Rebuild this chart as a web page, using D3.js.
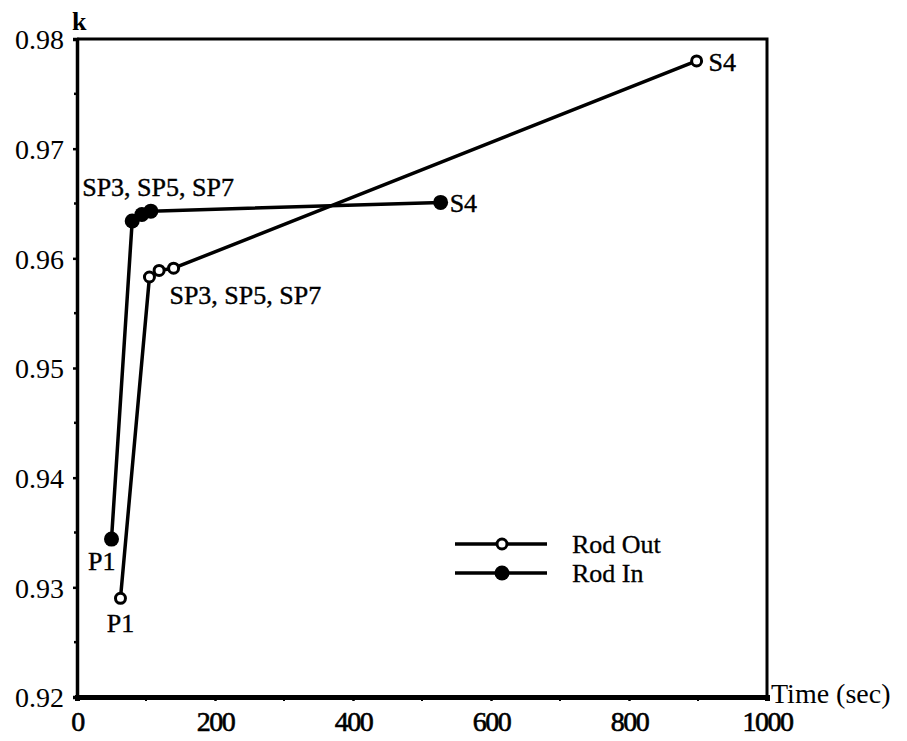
<!DOCTYPE html>
<html>
<head>
<meta charset="utf-8">
<script src="https://cdn.jsdelivr.net/npm/d3@7"></script>
<style>
  body { margin: 0; background: #fff; }
  svg { display: block; }
  text { font-family: "Liberation Serif", "DejaVu Serif", serif; fill: #000; }
</style>
</head>
<body>
<div class="chart"></div>
<script>
// values
const rodOutTime = [63, 105, 119, 140, 898];
const rodOutK = [0.9290, 0.9583, 0.9589, 0.9591, 0.9780];
const rodInTime = [50, 80, 94, 107, 527];
const rodInK = [0.9344, 0.9634, 0.9640, 0.9643, 0.9651];
const xTicks = [0, 200, 400, 600, 800, 1000];
const yTicks = [0.92, 0.93, 0.94, 0.95, 0.96, 0.97, 0.98];
const seriesNames = ["Rod Out", "Rod In"];

const width = 907, height = 741;
const margin = {left: 77, right: 140, top: 39, bottom: 44};
const innerW = width - margin.left - margin.right;
const innerH = height - margin.top - margin.bottom;

const x = d3.scaleLinear().domain([0, 1000]).range([0, innerW]);
const y = d3.scaleLinear().domain([0.92, 0.98]).range([innerH, 0]);

const svg = d3.select(".chart").append("svg")
    .attr("width", width)
    .attr("height", height);

const g = svg.append("g")
    .attr("transform", `translate(${margin.left},${margin.top})`);

// frame top and right
g.append("path")
    .attr("d", `M0,0H${innerW}V${innerH}`)
    .attr("fill", "none")
    .attr("stroke", "#000")
    .attr("stroke-width", 3);

// y axis
const yAxis = g.append("g")
    .call(d3.axisLeft(y).tickValues(yTicks).tickFormat(d3.format(".2f")).tickSize(4).tickPadding(9));
yAxis.select(".domain").attr("stroke-width", 3.5);
yAxis.selectAll(".tick line").attr("stroke-width", 2.5);
yAxis.selectAll("text").attr("font-size", 28).attr("dy", "0.35em")
    .style("font-family", "Liberation Serif, serif");
g.append("g").selectAll("line")
    .data(d3.range(0.925, 0.98, 0.01))
    .join("line")
    .attr("x1", -3).attr("x2", 0)
    .attr("y1", d => y(d)).attr("y2", d => y(d))
    .attr("stroke", "#000").attr("stroke-width", 2.5);

// x axis
const xAxis = g.append("g")
    .attr("transform", `translate(0,${innerH})`)
    .call(d3.axisBottom(x).tickValues(xTicks).tickFormat(d3.format("d")).tickSize(4).tickPadding(10));
xAxis.select(".domain").attr("stroke-width", 5);
xAxis.selectAll(".tick line").attr("stroke-width", 2.5);
xAxis.selectAll("text").attr("font-size", 28).attr("letter-spacing", -1.5)
    .attr("stroke", "#000").attr("stroke-width", 0.6)
    .style("font-family", "Liberation Serif, serif");
g.append("g").selectAll("line")
    .data(d3.range(100, 1000, 200))
    .join("line")
    .attr("x1", d => x(d)).attr("x2", d => x(d))
    .attr("y1", innerH).attr("y2", innerH + 4)
    .attr("stroke", "#000").attr("stroke-width", 2);

// axis titles
g.append("text")
    .attr("x", -5).attr("y", -9)
    .attr("font-size", 26).attr("font-weight", "bold")
    .text("k");
g.append("text")
    .attr("x", innerW + 4).attr("y", innerH + 6)
    .attr("font-size", 28)
    .text("Time (sec)");

const line = d3.line().x(d => x(d[0])).y(d => y(d[1]));
const rodOut = d3.zip(rodOutTime, rodOutK);
const rodIn = d3.zip(rodInTime, rodInK);

[rodIn, rodOut].forEach(pts => {
    g.append("path")
        .datum(pts)
        .attr("d", line)
        .attr("fill", "none")
        .attr("stroke", "#000")
        .attr("stroke-width", 3.5)
        .attr("stroke-linejoin", "round");
});

g.append("g").selectAll("circle")
    .data(rodIn)
    .join("circle")
    .attr("cx", d => x(d[0])).attr("cy", d => y(d[1]))
    .attr("r", 7.5)
    .attr("fill", "#000");

g.append("g").selectAll("circle")
    .data(rodOut)
    .join("circle")
    .attr("cx", d => x(d[0])).attr("cy", d => y(d[1]))
    .attr("r", 5)
    .attr("fill", "#fff")
    .attr("stroke", "#000")
    .attr("stroke-width", 3);

// point labels
const labels = g.append("g")
    .attr("font-size", 26)
    .attr("stroke", "#000")
    .attr("stroke-width", 0.4);

function addLabel(pt, text, dx, dy, anchor) {
    labels.append("text")
        .attr("x", x(pt[0]) + dx)
        .attr("y", y(pt[1]) + dy)
        .attr("text-anchor", anchor)
        .text(text);
}
addLabel(rodOut[4], "S4", 12, 10, "start");
addLabel(rodIn[4], "S4", 9, 10, "start");
addLabel(rodOut[1], "SP3, SP5, SP7", 20, 27, "start");
addLabel(rodIn[1], "SP3, SP5, SP7", -50, -25, "start");
addLabel(rodIn[0], "P1", 4, 31, "end");
addLabel(rodOut[0], "P1", 0, 34, "middle");

// legend
const legend = g.append("g")
    .attr("transform", `translate(${455 - margin.left},${544 - margin.top})`);
seriesNames.forEach((name, i) => {
    const row = legend.append("g").attr("transform", `translate(0,${i * 29})`);
    row.append("line")
        .attr("x1", 0).attr("x2", 92)
        .attr("stroke", "#000").attr("stroke-width", 3.5);
    if (i === 0) {
        row.append("circle").attr("cx", 47).attr("r", 5)
            .attr("fill", "#fff").attr("stroke", "#000").attr("stroke-width", 3);
    } else {
        row.append("circle").attr("cx", 47).attr("r", 7.5).attr("fill", "#000");
    }
    row.append("text")
        .attr("x", 117).attr("y", 9)
        .attr("font-size", 26)
        .attr("stroke", "#000").attr("stroke-width", 0.3)
        .text(name);
});
</script>
</body>
</html>
